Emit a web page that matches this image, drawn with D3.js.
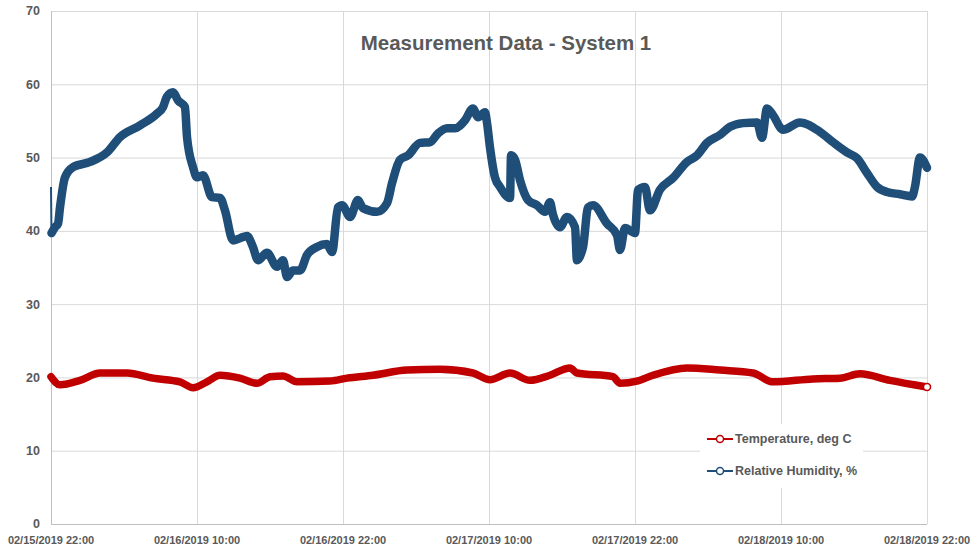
<!DOCTYPE html>
<html lang="en">
<head>
    <meta charset="UTF-8">
    <title>Measurement Data - System 1</title>
    <script src="https://d3js.org/d3.v7.min.js"></script>
</head>
<style>
    body {
        margin: 0;
        padding: 0;
        background: #fff;
    }
    svg {
        display: block;
        font-family: "Liberation Sans", Arial, sans-serif;
    }
    .grid line {
        stroke: #d9d9d9;
        stroke-width: 1px;
    }
    .tick-label {
        fill: #595959;
        font-weight: bold;
    }
</style>
<body>
<div class="chart"></div>
<script>
  /** DATA — hours after 02/15/2019 22:00 */
  var humidityHours = [0, 0.04, 0.33, 0.58, 0.74, 1.15, 1.81, 3.21, 4.60, 5.67, 7.32, 8.71, 9.21, 9.53, 10.03,
    10.44, 11.01, 11.18, 11.67, 12.00, 12.49, 13.23, 13.89, 14.30, 14.96, 15.53, 16.11, 16.60, 17.01, 17.75,
    18.58, 19.07, 19.40, 19.89, 20.47, 21.04, 21.86, 22.68, 23.10, 23.59, 23.92, 24.58, 25.23, 25.64, 26.79,
    27.62, 28.03, 28.68, 29.34, 30.33, 31.15, 31.81, 32.55, 33.21, 34.03, 34.68, 35.10, 35.67, 35.84, 36.08,
    36.49, 36.90, 37.73, 37.81, 38.14, 38.55, 39.21, 39.95, 40.60, 41.01, 41.26, 41.84, 42.41, 43.07, 43.23,
    43.73, 44.14, 44.55, 45.70, 46.52, 46.77, 47.18, 48.00, 48.25, 48.82, 49.23, 50.05, 51.12, 52.27, 53.10,
    53.92, 54.99, 55.81, 56.88, 58.03, 58.44, 58.85, 59.34, 60.16, 61.56, 63.21, 64.27, 65.42, 66.25, 67.07,
    67.89, 68.71, 69.78, 70.77, 71.01, 71.42, 72];
  var humidityValues = [46, 39.7, 40.5, 41, 43.2, 47.3, 48.7, 49.4, 50.7, 52.8, 54.4, 56, 56.9, 58.3, 58.9,
    57.8, 56.9, 52.8, 48.7, 47.3, 47.6, 44.6, 44.5, 42.8, 38.7, 39, 39.3, 37.8, 36, 37,
    35.1, 36, 33.7, 34.6, 34.6, 36.7, 37.8, 38.2, 37.1, 43.2, 43.5, 41.9, 44.2, 43.1, 42.6,
    43.8, 46.5, 49.7, 50.3, 52, 52.1, 53.3, 54, 54, 55.1, 56.7, 55.5, 56.2, 54.7, 51.4,
    47.3, 46, 44.5, 50.3, 49.7, 46.9, 44.2, 43.5, 42.6, 43.9, 42.2, 40.5, 41.9, 40.5, 36,
    37.8, 43.2, 43.5, 41, 39.4, 37.4, 40.4, 39.7, 45.6, 46, 42.8, 45.6, 47.2, 49.4, 50.3,
    52, 53.1, 54.2, 54.7, 54.8, 52.7, 56.7, 55.8, 53.8, 54.8, 53.5, 52.1, 50.7, 49.9, 47.9,
    46, 45.3, 45, 44.7, 46, 50, 48.6];

  var temperatureHours = [0, 0.74, 2.38, 4.03, 6.25, 8.38, 10.60, 11.67, 12.82, 13.89, 15.53, 16.93, 18.00,
    19.07, 20.22, 22.93, 24.33, 26.47, 29.26, 31.97, 34.68, 36.08, 37.73, 39.37, 41.01, 42.66, 43.23, 46.19,
    46.77, 48.16, 49.48, 52.27, 54.99, 57.70, 59.34, 62.63, 64.85, 66.49, 68.96, 72];
  var temperatureValues = [20.1, 19, 19.6, 20.6, 20.6, 19.9, 19.4, 18.6, 19.4, 20.3, 19.9, 19.2, 20.1,
    20.2, 19.4, 19.5, 19.9, 20.3, 21, 21.1, 20.6, 19.7, 20.6, 19.6, 20.3, 21.3, 20.6, 20.1,
    19.2, 19.5, 20.3, 21.3, 21, 20.6, 19.4, 19.8, 19.9, 20.5, 19.6, 18.7];

  var yTicks = [0, 10, 20, 30, 40, 50, 60, 70];
  var seriesNames = ['Temperature, deg C', 'Relative Humidity, %'];
  var chartTitle = 'Measurement Data - System 1';

  /** LAYOUT */
  var width = 979, height = 549;
  var plotLeft = 51, plotRight = 927, plotTop = 11, plotBottom = 524;
  var humidityColor = '#1f4e79';
  var temperatureColor = '#c00000';

  var startTime = new Date(2019, 1, 15, 22, 0);
  function hoursToDate(h) { return new Date(startTime.getTime() + h * 3600 * 1000); }

  var xScale = d3.scaleTime()
    .domain([startTime, hoursToDate(72)])
    .range([plotLeft, plotRight]);
  var yScale = d3.scaleLinear()
    .domain([0, 70])
    .range([plotBottom, plotTop]);

  var xTicks = d3.range(0, 73, 12).map(hoursToDate);
  var formatTick = d3.timeFormat('%m/%d/%Y %H:%M');

  var svg = d3.select('.chart').append('svg')
    .attr('width', width)
    .attr('height', height);

  /** gridlines */
  var grid = svg.append('g').classed('grid', true);
  grid.selectAll('line.h')
    .data(yTicks.slice(1))
    .enter().append('line')
    .attr('x1', plotLeft).attr('x2', plotRight)
    .attr('y1', function (d) { return yScale(d) + 0.5; })
    .attr('y2', function (d) { return yScale(d) + 0.5; });
  grid.selectAll('line.v')
    .data(xTicks.slice(1))
    .enter().append('line')
    .attr('x1', function (d) { return Math.round(xScale(d)) + 0.5; })
    .attr('x2', function (d) { return Math.round(xScale(d)) + 0.5; })
    .attr('y1', plotTop).attr('y2', plotBottom);

  /** axis lines */
  svg.append('line')
    .attr('x1', plotLeft + 0.5).attr('x2', plotLeft + 0.5)
    .attr('y1', plotTop).attr('y2', plotBottom)
    .attr('stroke', '#bfbfbf');
  svg.append('line')
    .attr('x1', plotLeft).attr('x2', plotRight)
    .attr('y1', plotBottom + 0.5).attr('y2', plotBottom + 0.5)
    .attr('stroke', '#bfbfbf');

  /** tick labels */
  svg.append('g').selectAll('text')
    .data(yTicks)
    .enter().append('text')
    .classed('tick-label', true)
    .attr('x', 40)
    .attr('y', function (d) { return yScale(d); })
    .attr('dy', '.35em')
    .attr('text-anchor', 'end')
    .style('font-size', '12.5px')
    .text(function (d) { return d; });

  svg.append('g').selectAll('text')
    .data(xTicks)
    .enter().append('text')
    .classed('tick-label', true)
    .attr('x', function (d) { return xScale(d); })
    .attr('y', 544)
    .attr('text-anchor', 'middle')
    .style('font-size', '11px')
    .text(function (d) { return formatTick(d); });

  /** title */
  svg.append('text')
    .attr('x', 506)
    .attr('y', 50)
    .attr('text-anchor', 'middle')
    .style('font-size', '20.5px')
    .style('font-weight', 'bold')
    .attr('fill', '#595959')
    .text(chartTitle);

  /** series */
  var line = d3.line()
    .curve(d3.curveMonotoneX)
    .x(function (d) { return xScale(hoursToDate(d[0])); })
    .y(function (d) { return yScale(d[1]); });

  var humidityData = d3.zip(humidityHours, humidityValues);
  var temperatureData = d3.zip(temperatureHours, temperatureValues);

  /** the first reading is joined to the rest by a thin connector only */
  svg.append('path')
    .datum(humidityData.slice(0, 2))
    .attr('d', d3.line()
      .x(function (d) { return xScale(hoursToDate(d[0])); })
      .y(function (d) { return yScale(d[1]); }))
    .attr('fill', 'none')
    .attr('stroke', humidityColor)
    .attr('stroke-width', 2);

  svg.append('path')
    .datum(humidityData.slice(1))
    .attr('d', line)
    .attr('fill', 'none')
    .attr('stroke', humidityColor)
    .attr('stroke-width', 8.5)
    .attr('stroke-linejoin', 'round')
    .attr('stroke-linecap', 'round');

  svg.append('path')
    .datum(temperatureData)
    .attr('d', line)
    .attr('fill', 'none')
    .attr('stroke', temperatureColor)
    .attr('stroke-width', 7.5)
    .attr('stroke-linejoin', 'round')
    .attr('stroke-linecap', 'round');

  /** last temperature marker is visible as an open circle */
  var lastTemp = temperatureData[temperatureData.length - 1];
  svg.append('circle')
    .attr('cx', xScale(hoursToDate(lastTemp[0])))
    .attr('cy', yScale(lastTemp[1]))
    .attr('r', 3.5)
    .attr('fill', '#fff')
    .attr('stroke', temperatureColor)
    .attr('stroke-width', 1.5);

  /** legend */
  var legend = svg.append('g').attr('transform', 'translate(700,424)');
  legend.append('rect')
    .attr('width', 163).attr('height', 64)
    .attr('fill', '#fff');
  var legendItem = legend.selectAll('g')
    .data(seriesNames)
    .enter().append('g')
    .attr('transform', function (_, i) { return 'translate(0,' + (15 + i * 32) + ')'; });
  legendItem.append('line')
    .attr('x1', 7).attr('x2', 33)
    .attr('stroke', function (_, i) { return i === 0 ? temperatureColor : humidityColor; })
    .attr('stroke-width', 2);
  legendItem.append('circle')
    .attr('cx', 20).attr('r', 3.5)
    .attr('fill', '#fff')
    .attr('stroke', function (_, i) { return i === 0 ? temperatureColor : humidityColor; })
    .attr('stroke-width', 1.5);
  legendItem.append('text')
    .attr('x', 35)
    .attr('dy', '.35em')
    .attr('fill', '#595959')
    .style('font-size', '12.5px')
    .style('font-weight', 'bold')
    .text(function (d) { return d; });
</script>
</body>
</html>
